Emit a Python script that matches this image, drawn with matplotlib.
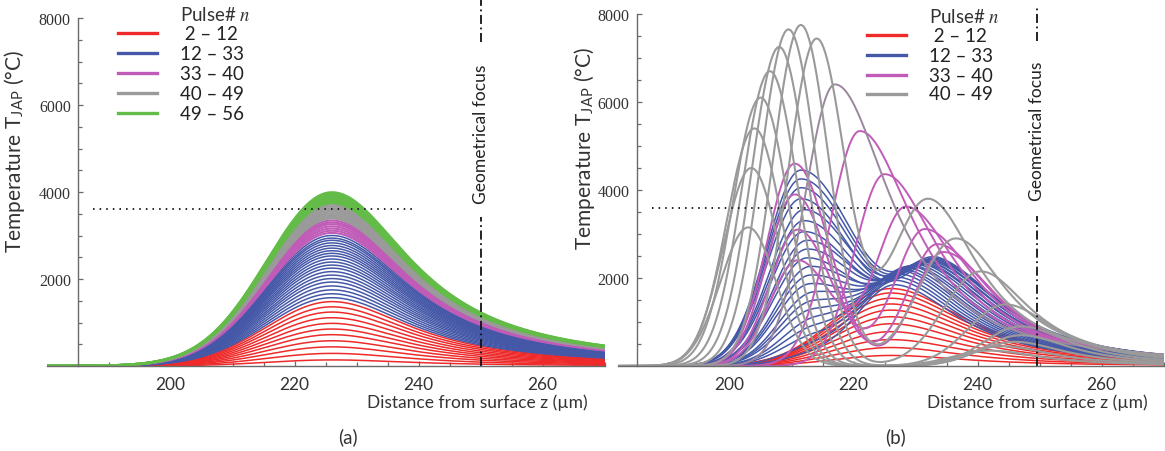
import numpy as np
import matplotlib.pyplot as plt
from matplotlib.lines import Line2D

plt.rcParams['font.family'] = ['Lato', 'DejaVu Sans']
plt.rcParams['mathtext.fontset'] = 'stix'

# ---------------- data ----------------
# (a): every pulse gives the same profile, peak near z = 226 um
a_peak_z = 226
a_red = [140, 290, 440, 580, 720, 850, 980, 1110, 1240, 1360, 1480]
a_blue = [1570, 1660, 1750, 1840, 1930, 2010, 2090, 2170, 2250, 2320, 2390,
          2460, 2530, 2590, 2650, 2710, 2770, 2830, 2890, 2940, 3000]
a_magenta = [3060, 3110, 3160, 3210, 3260, 3300, 3345]
a_gray = [3390, 3430, 3470, 3510, 3550, 3590, 3630, 3670, 3710]
a_green = [3750, 3790, 3830, 3870, 3910, 3950, 3990]

# (b): peak heights / positions per pulse (left peak + right hump)
b_red = [240, 420, 600, 780, 960, 1120, 1270, 1410, 1540, 1660, 1760]
b_red_z = 226

b_blue_left = [250, 450, 650, 850, 1050, 1250, 1450, 1650, 1850, 2050, 2250,
               2450, 2650, 2850, 3050, 3300, 3550, 3800, 4050, 4250, 4450]
b_blue_left_z = [214.5, 214.5, 214, 214, 214, 213.5, 213.5, 213.5, 213, 213, 213,
                 212.5, 212.5, 212.5, 212, 212, 212, 211.5, 211.5, 211.5, 211.5]
b_blue_right = [1750, 1780, 1810, 1840, 1870, 1900, 1930, 1960, 1990, 2020, 2050,
                2080, 2100, 2120, 2140, 2160, 2180, 2200, 2220, 2240, 2260]
b_blue_right_z = [227, 227.5, 228, 228.5, 229, 229.5, 230, 230.5, 231, 231.5, 232,
                  232.5, 232.5, 233, 233, 233.5, 233.5, 234, 234, 234, 234]

b_mag_left = [4600, 3900, 3100, 2400, 0, 0, 0]
b_mag_left_z = [210.5, 210.5, 211, 211, 211.5, 212, 212]
b_mag_right = [2590, 2770, 3110, 3610, 4360, 5340, 6400]
b_mag_right_z = [234.5, 233.5, 231.5, 228.5, 225, 221, 217]

b_gray_left = [7400, 7750, 7650, 7250, 6700, 6100, 5400, 4500, 3150]
b_gray_left_z = [214, 211.5, 209.5, 208, 206.5, 205, 204, 203.5, 203]
b_gray_right = [3800, 2900, 2150, 1400, 900, 700, 550, 450, 350]
b_gray_right_z = [232, 236.5, 240.5, 244.5, 247, 247, 246, 244, 242]

focus_a = 250
focus_b = 249.5
threshold = 3600

legend_a = [' 2 – 12', '12 – 33', '33 – 40', '40 – 49', '49 – 56']
legend_b = [' 2 – 12', '12 – 33', '33 – 40', '40 – 49']

RED = '#ee2a2a'
BLUE = '#4558a8'
MAGENTA = '#c05cb8'
GRAY = '#9a9a9a'
GREEN = '#63bb48'
MAUVE = '#9c869e'

z = np.linspace(180, 270, 700)


def rise_fall(amp, zc, s_left, s_right):
    s = np.where(z < zc, s_left, s_right)
    return amp * np.exp(-0.5 * ((z - zc) / s) ** 2)


def rise_tail(amp, zc, s_left, w_right):
    left = np.exp(-0.5 * ((z - zc) / s_left) ** 2)
    right = 1.0 / (1.0 + ((z - zc) / w_right) ** 2)
    return amp * np.where(z < zc, left, right)


W, H = 1165, 452
fig = plt.figure(figsize=(W / 100, H / 100), dpi=100)
ax_a = fig.add_axes([46.7 / W, 1 - 367 / H, 558 / W, 348 / H])
ax_b = fig.add_axes([618 / W, 1 - 367 / H, 545.6 / W, 352 / H])

# ---- panel (a)
for vals, col, lw in [(a_red, RED, 1.1), (a_blue, BLUE, 1.1), (a_magenta, MAGENTA, 1.5),
                      (a_gray, GRAY, 1.5), (a_green, GREEN, 1.8)]:
    for v in vals:
        ax_a.plot(z, rise_tail(v, a_peak_z, 10.5, 16), color=col, lw=lw)

# ---- panel (b)
for v in b_red:
    ax_b.plot(z, rise_tail(v, b_red_z, 9, 15), color=RED, lw=1.1)
for a1, c1, a2, c2 in zip(b_blue_left, b_blue_left_z, b_blue_right, b_blue_right_z):
    ax_b.plot(z, rise_fall(a1, c1, 5.5, 9) + rise_tail(a2, c2, 6, 13), color=BLUE, lw=1.1)
for i, (a1, c1, a2, c2) in enumerate(zip(b_mag_left, b_mag_left_z, b_mag_right, b_mag_right_z)):
    col = MAUVE if i == len(b_mag_left) - 1 else MAGENTA
    ax_b.plot(z, rise_fall(a1, c1, 4.5, 5.5) + rise_tail(a2, c2, 4.8, 11), color=col, lw=1.4)
for a1, c1, a2, c2 in zip(b_gray_left, b_gray_left_z, b_gray_right, b_gray_right_z):
    ax_b.plot(z, rise_fall(a1, c1, 4.5, 4.5) + rise_tail(a2, c2, 6, 10), color=GRAY, lw=1.5)

# ---- common axes styling
for ax, xmin, focus, dot_end, gap_lo, gap_hi, top in [
        (ax_a, 180, focus_a, 239, 3435, 7450, 8440),
        (ax_b, 182, focus_b, 241.6, 3410, 7390, 8160)]:
    ax.set_xlim(xmin, 270)
    ax.set_ylim(0, 8000)
    for s in ['top', 'right']:
        ax.spines[s].set_visible(False)
    ax.spines['left'].set_position(('data', 185))
    for s in ['left', 'bottom']:
        ax.spines[s].set_color('#6a6a6a')
        ax.spines[s].set_linewidth(1.0)
    ax.set_xticks([200, 220, 240, 260])
    ax.set_xticks(np.arange(190, 271, 5), minor=True)
    ax.set_yticks([2000, 4000, 6000, 8000])
    ax.set_yticks([500, 1000, 1500, 2500, 3000, 3500, 4500, 5000, 5500,
                   6500, 7000, 7500], minor=True)
    ax.tick_params(which='both', direction='in', color='#6a6a6a', width=0.9)
    ax.tick_params(which='major', length=3.6)
    ax.tick_params(which='minor', length=2.9)
    ax.tick_params(axis='x', which='major', pad=7, labelsize=12.5, labelcolor='#333333')
    ax.tick_params(axis='y', which='major', pad=5, labelsize=11.5, labelcolor='#333333')
    ax.patch.set_alpha(0)

    ax.plot([187.5, dot_end], [threshold, threshold], color='#222222', lw=1.4,
            linestyle=(0, (0.8, 2.6)))
    ax.plot([focus, focus], [0, gap_lo], color='#111111', lw=1.3,
            linestyle=(0, (5, 2, 1, 2)), clip_on=False)
    ax.plot([focus, focus], [gap_hi, top], color='#111111', lw=1.3,
            linestyle=(0, (5, 2, 1, 2)), clip_on=False)
    ax.text(focus, 5350, 'Geometrical focus', rotation=90, ha='center', va='center',
            fontsize=12.5, color='#222222')
    ax.set_ylabel('Temperature T$_{\\mathregular{JAP}}$ (°C)', fontsize=15,
                  color='#333333')

ax_a.yaxis.set_label_coords((27 - 46.7) / 558, 0.62)
ax_b.yaxis.set_label_coords((597 - 618) / 545.6, 0.62)

# x labels and panel letters
fig.text(588 / W, 1 - 403 / H, 'Distance from surface z (µm)', ha='right', va='center',
         fontsize=12.5, color='#333333')
fig.text(1148 / W, 1 - 403 / H, 'Distance from surface z (µm)', ha='right', va='center',
         fontsize=12.5, color='#333333')
fig.text(348 / W, 1 - 437 / H, '(a)', ha='center', va='center', fontsize=13.5, color='#333333')
fig.text(895 / W, 1 - 437 / H, '(b)', ha='center', va='center', fontsize=13.5, color='#333333')


# legends
def draw_legend(x0, x1, xt, y_title, y_rows, labels, colors):
    fig.text(xt / W, 1 - y_title / H, 'Pulse# $n$', ha='left', va='center',
             fontsize=13.5, color='#333333')
    for lab, col, y in zip(labels, colors, y_rows):
        fig.add_artist(Line2D([x0 / W, x1 / W], [1 - y / H, 1 - y / H], color=col, lw=2.4))
        fig.text(xt / W, 1 - y / H, lab, ha='left', va='center', fontsize=13.5,
                 color='#222222')


draw_legend(118, 157, 180, 15, [34, 54, 74, 94, 114], legend_a,
            [RED, BLUE, MAGENTA, GRAY, GREEN])
draw_legend(867, 906, 929, 17, [36, 56, 76, 95], legend_b,
            [RED, BLUE, MAGENTA, GRAY])

# serif numbers on the temperature axes
fig.canvas.draw()
for ax in (ax_a, ax_b):
    for t in ax.yaxis.get_major_ticks():
        t.label1.set_fontfamily('Liberation Serif')

fig.savefig('out.png', dpi=100)
